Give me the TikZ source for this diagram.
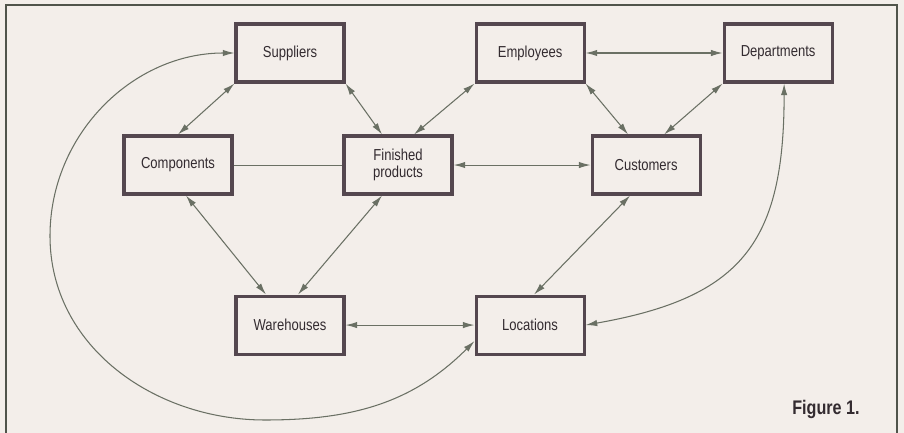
\documentclass[tikz,border=0pt]{standalone}
\usepackage{fontspec}
\setmainfont{Liberation Sans}[FakeStretch=0.82]
\usepackage{tikz}
\usetikzlibrary{arrows.meta}

\definecolor{paper}{HTML}{F3EEEA}
\definecolor{boxline}{HTML}{54474F}
\definecolor{wire}{HTML}{6A7064}
\definecolor{ink}{HTML}{332B30}

\begin{document}
\begin{tikzpicture}[x=0.025cm, y=-0.025cm, node distance={60mm},
        main/.style = {draw=boxline, line width=2.2pt, rectangle, minimum width=27mm, minimum height=14.5mm,
                       text=ink, font=\fontsize{11.3}{12.5}\selectfont, align=center},
        link/.style = {draw=wire, line width=0.75pt},
        both/.style = {link, {Latex[length=2.9mm, width=1.6mm]}-{Latex[length=2.9mm, width=1.6mm]}}]
            \fill[paper] (0,0) rectangle (904,433);
            \useasboundingbox (0,0) rectangle (904,433);
            \draw[wire!75!black, line width=1.7pt] (6,433) -- (6,5) -- (897,5) -- (897,433);

            \node[main] (Sup) at (290,53) {Suppliers};
            \node[main] (Emp) [right of=Sup] {Employees};
            \node[main] (Dep) [right of=Emp, node distance=62mm] {Departments};
            \node[main] (Com) [below of=Sup, node distance=28mm, xshift=-28mm] {Components};
            \node[main] (Fin) [right of=Com, node distance=55mm] {Finished\\products};
            \node[main] (Cus) [right of=Fin, node distance=62mm] {Customers};
            \node[main] (War) [below of=Sup, node distance=68mm] {Warehouses};
            \node[main] (Loc) [right of=War] {Locations};

            \node[text=ink, font=\fontsize{14}{16}\selectfont\bfseries] (fig) at (826,409) {Figure 1.};

            \coordinate (lft) at (50,236);
            \coordinate (btm) at (265,420);

            \draw[both] (Sup.south west) -- (Com.north);
            \draw[both] (Sup.south east) -- ([xshift=-4mm]Fin.north);
            \draw[both] (Emp.south west) -- ([xshift=4mm]Fin.north);
            \draw[both] (Emp.east) -- (Dep.west);
            \draw[both] (Emp.south east) -- ([xshift=-4.5mm]Cus.north);
            \draw[both] (Dep.south west) -- ([xshift=4.5mm]Cus.north);
            \draw[link] (Com.east) -- (Fin.west);
            \draw[both] (Fin.east) -- (Cus.west);
            \draw[both] ([xshift=2mm]Com.south) -- ([xshift=-6mm]War.north);
            \draw[both] ([xshift=-4mm]Fin.south) -- ([xshift=2mm]War.north);
            \draw[both] (War.east) -- (Loc.west);
            \draw[both] ([xshift=-4mm]Cus.south) -- ([xshift=1mm]Loc.north);

            \draw[both] ([xshift=1.5mm]Dep.south) to[out=-90, in=10, looseness=1.3] (Loc.east);
            \draw[both] (Sup.west) to[out=180, in=90] (lft) to[out=-90, in=180] (btm)
                to[out=0, in=225] ([yshift=-4mm]Loc.west);
        \end{tikzpicture}
\end{document}
